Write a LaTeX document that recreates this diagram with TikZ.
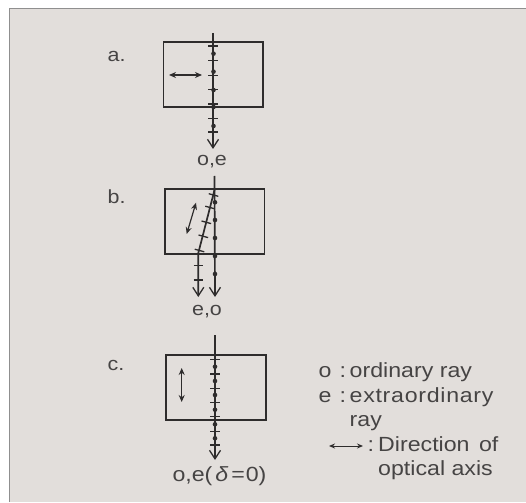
\documentclass[tikz,border=0pt]{standalone}
\usepackage{fontspec}
\setmainfont[FakeStretch=1.13]{Liberation Sans}
\usetikzlibrary{arrows.meta}
\definecolor{panel}{HTML}{E2DEDB}
\definecolor{edgegray}{HTML}{8F8F8F}
\definecolor{ink}{HTML}{2E2C2C}
\definecolor{txt}{HTML}{464444}
\tikzset{
  x=1pt,y=-1pt,
  plate/.style={draw=ink,line width=1.7pt,fill=none},
  ray/.style={draw=ink,line width=1.7pt},
  rayout/.style={ray,-{Straight Barb[length=8.5pt,width=11pt,line width=1.3pt]}},
  axisarrow/.style={draw=ink,line width=1.2pt,{Stealth[length=7pt,width=6pt]}-{Stealth[length=7pt,width=6pt]}},
  tick/.style={draw=ink,line width=1.3pt},
  spot/.style={circle,fill=ink,inner sep=0pt,minimum size=4.6pt},
  lbl/.style={font=\fontsize{20.5}{22}\selectfont,text=txt,inner sep=0pt,anchor=base west},
  lblc/.style={font=\fontsize{19}{20}\selectfont,text=txt,inner sep=0pt,anchor=base},
}
\begin{document}
\begin{tikzpicture}
\useasboundingbox (0,0) rectangle (526,502);
\fill[white] (0,0) rectangle (526,502);
\fill[panel] (9.5,8.5) rectangle (526,502);
\draw[edgegray,line width=1.6pt] (526,8.5) -- (9.5,8.5) -- (9.5,502);

% labels
\node[lblc,anchor=base west] (la) at (107.5,62) {a.};
\node[lblc,anchor=base west] (lb) at (107.5,204) {b.};
\node[lblc,anchor=base west] (lc) at (107.5,370) {c.};

% --- a ---
\node[plate,minimum width=99.5pt,minimum height=65pt,inner sep=0pt] (pa) at (213.2,74.5) {};
\coordinate (a0) at (213,33);
\coordinate (a1) at (213,149);
\draw[rayout] (a0) -- (a1);
\foreach \y in {46,60.7,75.7,89.7,104,118.7,132} \draw[tick] (208,\y) -- (218,\y);
\foreach \y in {53.7,71.7,90,107,126} \node[spot] at (213.5,\y) {};
\coordinate (aa0) at (169,75);
\coordinate (aa1) at (202,75);
\draw[axisarrow] (aa0) -- (aa1);
\node[lblc] (ta) at (212,166) {o,e};

% --- b ---
\node[plate,minimum width=99.5pt,minimum height=64.5pt,inner sep=0pt] (pb) at (214.7,221.5) {};
\coordinate (b0) at (214.5,176);
\coordinate (b1) at (215,297);
\draw[rayout] (b0) -- (b1);
\coordinate (e0) at (214.5,190);
\coordinate (e1) at (198.3,253);
\coordinate (e2) at (198.3,297);
\draw[rayout] (e0) -- (e1) -- (e2);
\foreach \x/\y in {213.5/195,210/207.5,206.3/222.3,203.3/236.3,199.5/250.5}
  \draw[tick] (\x-4.8,\y-1.3) -- (\x+4.8,\y+1.3);
\foreach \y in {265.5,280} \draw[tick] (193.5,\y) -- (203,\y);
\foreach \y in {202.3,220,238,256,274} \node[spot] at (215,\y) {};
\coordinate (ba0) at (196,202.7);
\coordinate (ba1) at (186.7,234);
\draw[axisarrow] (ba0) -- (ba1);
\node[lblc] (tb) at (207,315) {e,o};

% --- c ---
\node[plate,minimum width=100pt,minimum height=64.7pt,inner sep=0pt] (pc) at (215.7,387.3) {};
\coordinate (c0) at (215,335);
\coordinate (c1) at (215,460);
\draw[rayout] (c0) -- (c1);
\foreach \y in {359.7,374,388.3,402.3,416.7,431.3,445} \draw[tick] (210,\y) -- (220,\y);
\foreach \y in {366.7,381,395,409.7,424.3,438.3} \node[spot] at (215,\y) {};
\coordinate (ca0) at (181.7,368);
\coordinate (ca1) at (181.7,402);
\draw[axisarrow] (ca0) -- (ca1);
\node[lblc,font=\fontsize{20.5}{22}\selectfont] (tc) at (219.5,481) {o,e(\kern3pt{\itshape δ}\kern3pt=\kern1pt 0)};

% --- legend ---
\node[lbl] (k1) at (318.5,377) {o};
\node[lbl] (k1c) at (339.5,377) {:};
\node[lbl] (k1t) at (349.5,377) {ordinary ray};
\node[lbl] (k2) at (318.5,402.7) {e};
\node[lbl] (k2c) at (339.5,402.7) {:};
\node[lbl] (k2t) at (349.5,402.7) {\addfontfeature{LetterSpace=3.5}extraordinary};
\node[lbl] (k3t) at (349.5,426.7) {ray};
\coordinate (ka0) at (329,446);
\coordinate (ka1) at (363,446);
\draw[draw=ink,line width=1pt,{Stealth[length=6pt,width=5pt]}-{Stealth[length=6pt,width=5pt]}] (ka0) -- (ka1);
\node[lbl] (k4c) at (367.5,451.7) {:};
\node[lbl] (k4t) at (378,451.7) {Direction\kern3pt\ of};
\node[lbl] (k5t) at (378,475.7) {optical axis};
\end{tikzpicture}
\end{document}
